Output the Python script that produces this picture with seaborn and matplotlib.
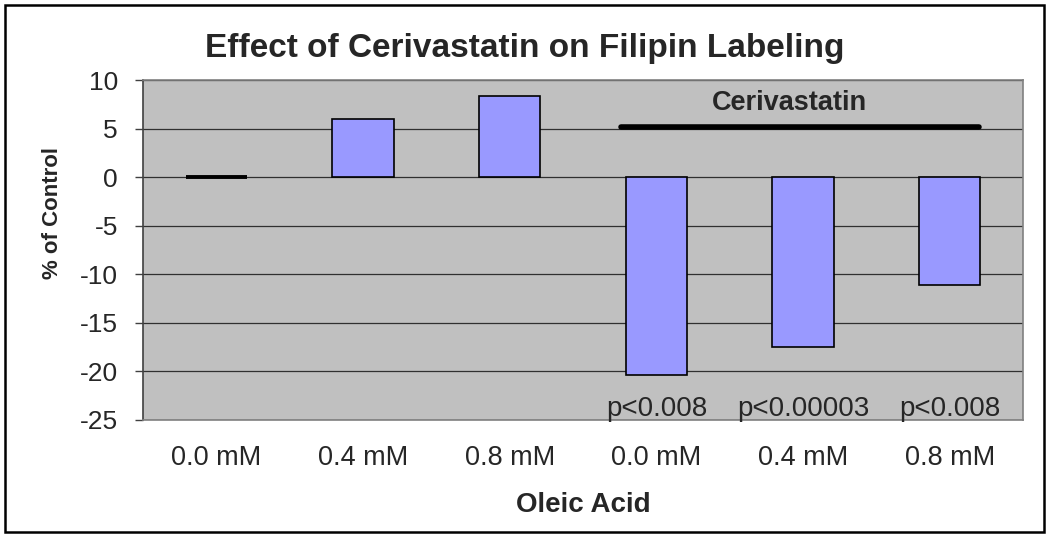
import matplotlib
matplotlib.use("Agg")
import matplotlib.pyplot as plt
import seaborn as sns
import pandas as pd
from matplotlib.patches import Rectangle

# Data
group_ids = ["ctl_0.0", "ctl_0.4", "ctl_0.8", "cer_0.0", "cer_0.4", "cer_0.8"]
tick_labels = ["0.0 mM", "0.4 mM", "0.8 mM", "0.0 mM", "0.4 mM", "0.8 mM"]
values = [0.0, 6.0, 8.4, -20.4, -17.5, -11.1]
p_labels = ["", "", "", "p<0.008", "p<0.00003", "p<0.008"]
cer_span = [2.76, 5.2]
cer_level = 5.2

sns.set_style("white")
plt.rcParams["font.family"] = ["Liberation Sans", "DejaVu Sans"]
plt.rcParams["axes.unicode_minus"] = False

df = pd.DataFrame({"group": group_ids, "value": values})

fig = plt.figure(figsize=(10.5, 5.37), dpi=100)
ax = fig.add_axes([143/1050, 1-420/537, (1023-143)/1050, 340/537])
ax.set_facecolor("#C0C0C0")

sns.barplot(data=df, x="group", y="value", order=group_ids, color="#9999FF",
            saturation=1, width=0.42, edgecolor="black", linewidth=1.2, ax=ax, zorder=3)
# zero-height bar shows as a thick line
ax.patches[0].set_linewidth(2.8)

ax.set_ylim(-25, 10)
ax.set_xlim(-0.5, 5.5)
ax.set_yticks(range(-25, 11, 5))
ax.yaxis.grid(True, color="#303030", linewidth=0.9, zorder=0)
ax.set_axisbelow(True)
ax.set_xticks(range(6))
ax.set_xticklabels(tick_labels, fontsize=19.5)
ax.tick_params(axis="x", length=0, pad=18)
ax.tick_params(axis="y", length=6, width=1, color="#404040", direction="out", pad=12, labelsize=19, left=True)
for s in ["top", "right", "bottom"]:
    ax.spines[s].set_color("#808080")
    ax.spines[s].set_linewidth(1.2)
ax.spines["left"].set_color("#404040")
ax.spines["left"].set_linewidth(1.2)

ax.set_xlabel("Oleic Acid", fontsize=20, fontweight="bold")
ax.xaxis.set_label_coords(0.5, -(505-420)/340)
ax.xaxis.label.set_va("center")
ax.set_ylabel("% of Control", fontsize=16, fontweight="bold")
ax.yaxis.set_label_coords(-(143-52)/880, (420-213)/340)
ax.yaxis.label.set_va("center")

# Cerivastatin bar
ax.plot(cer_span, [cer_level, cer_level], color="black", linewidth=4, solid_capstyle="round", zorder=4)
ax.text(3.91, 6.9, "Cerivastatin", fontsize=19.5, fontweight="bold", ha="center", va="baseline", zorder=5)

for i, lab in enumerate(p_labels):
    if lab:
        ax.text(i, -24.6, lab, fontsize=20, ha="center", va="baseline", zorder=5)

fig.text(0.5, 1-48/537, "Effect of Cerivastatin on Filipin Labeling", fontsize=24,
         fontweight="bold", ha="center", va="center")

fig.patches.append(Rectangle((5/1050, 5/537), 1039/1050, 527/537, transform=fig.transFigure,
                             fill=False, edgecolor="black", linewidth=1.8))

fig.savefig("out.png", dpi=100)
